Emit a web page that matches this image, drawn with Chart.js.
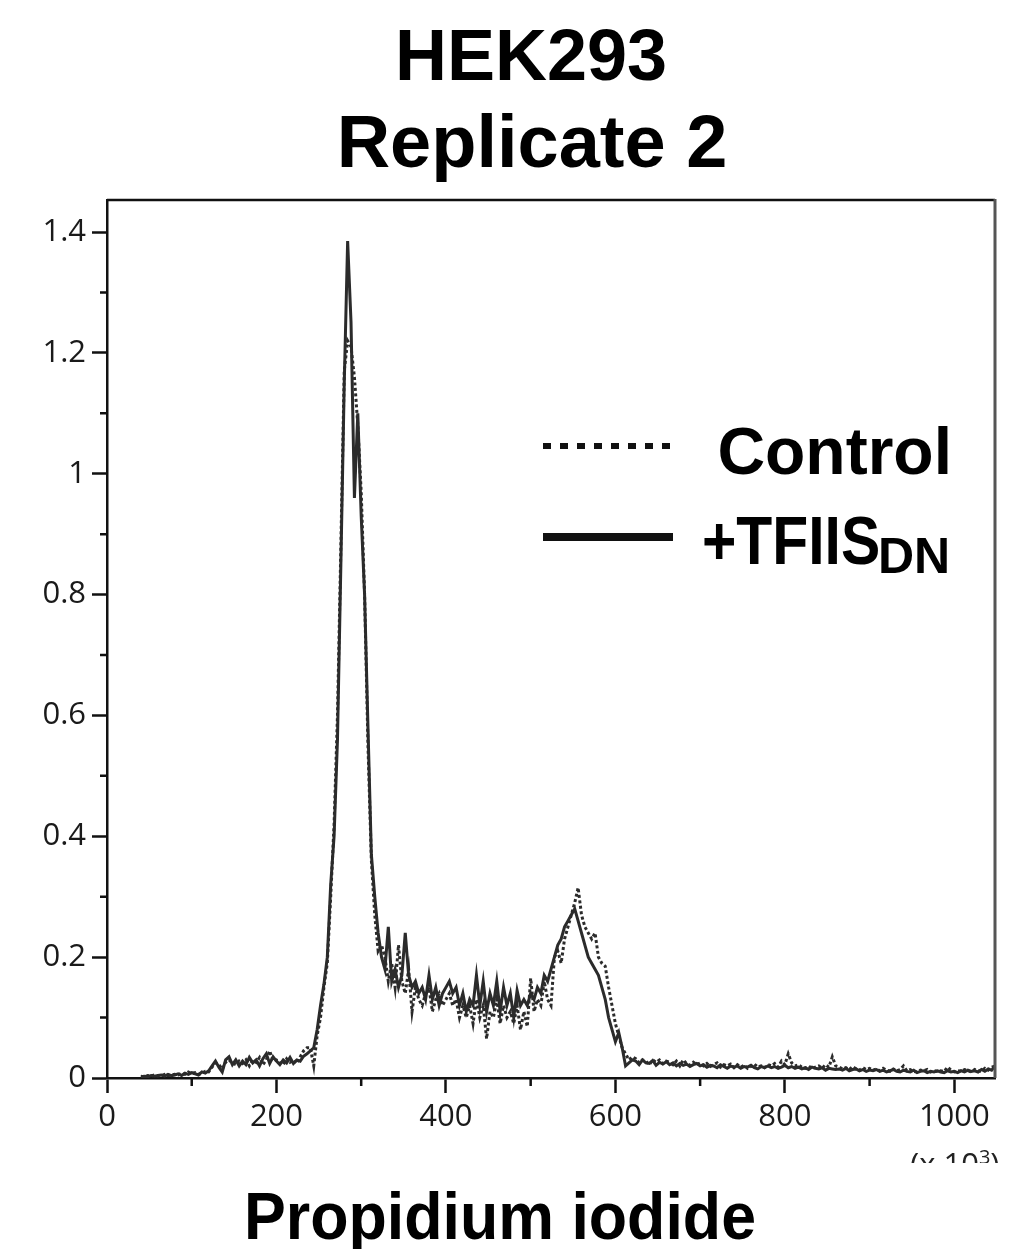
<!DOCTYPE html>
<html>
<head>
<meta charset="utf-8">
<script src="https://cdn.jsdelivr.net/npm/chart.js@4/dist/chart.umd.min.js"></script>
<style>
  html, body { margin: 0; padding: 0; background: #fff; }
  #wrap { position: relative; width: 1015px; height: 1249px; overflow: hidden; background: #fff; }
  #c { position: absolute; left: 0; top: 0; }
  .t { position: absolute; font-family: "Liberation Sans", Arial, sans-serif; font-weight: bold; color: #000; line-height: 1; white-space: nowrap; }
</style>
</head>
<body>
<div id="wrap">
  <canvas id="c" width="1015" height="1249"></canvas>
  <div class="t" id="title1" style="left:0;width:1062px;text-align:center;top:19px;font-size:72px;">HEK293</div>
  <div class="t" id="title2" style="left:0;width:1064px;text-align:center;top:105px;font-size:74px;">Replicate 2</div>
  <div class="t" id="xtitle" style="left:0;width:1000px;text-align:center;top:1183px;font-size:66px;transform:scaleX(0.95);transform-origin:500px 0;">Propidium iodide</div>
  <div style="position:absolute;left:543px;top:443px;width:132px;height:6px;background:repeating-linear-gradient(90deg,#111 0 8px,transparent 8px 17px);"></div>
  <div style="position:absolute;left:543px;top:533px;width:130px;height:8px;background:#111;"></div>
  <div class="t" style="right:63px;top:418px;font-size:66px;">Control</div>
  <div class="t" style="left:702px;top:506px;font-size:68px;transform:scaleX(0.865);transform-origin:0 0;">+TFIIS</div>
  <div class="t" style="left:878px;top:531px;font-size:50px;">DN</div>
  <div style="position:absolute;left:910px;top:1138px;height:25px;overflow:hidden;font-family:'Open Sans',sans-serif;font-size:31px;line-height:1;color:#222;white-space:nowrap;">
    <div style="margin-top:9px;">(x 10<sup style="font-size:20px;vertical-align:11px;">3</sup>)</div>
  </div>
</div>
<script>
const xs = [
  40,44,48,52,56,60,64,68,72,76,
  80,84,88,92,96,100,104,108,112,116,
  120,124,128,132,136,140,144,148,152,156,
  160,164,168,172,176,180,184,188,192,196,
  200,204,208,212,216,220,224,228,232,236,
  240,244,248,252,256,260,264,268,272,276,
  280,284,288,292,296,300,304,308,312,316,
  320,324,328,332,336,340,344,348,352,356,
  360,364,368,372,376,380,384,388,392,396,
  400,404,408,412,416,420,424,428,432,436,
  440,444,448,452,456,460,464,468,472,476,
  480,484,488,492,496,500,504,508,512,516,
  520,524,528,532,536,540,544,548,552,556,
  560,564,568,572,576,580,584,588,592,596,
  600,604,608,612,616,620,624,628,632,636,
  640,644,648,652,656,660,664,668,672,676,
  680,684,688,692,696,700,704,708,712,716,
  720,724,728,732,736,740,744,748,752,756,
  760,764,768,772,776,780,784,788,792,796,
  800,804,808,812,816,820,824,828,832,836,
  840,844,848,852,856,860,864,868,872,876,
  880,884,888,892,896,900,904,908,912,916,
  920,924,928,932,936,940,944,948,952,956,
  960,964,968,972,976,980,984,988,992,996,
  1000,1004,1008,1012,1016,1020,1024,1028,1032,1036,
  1040,1044,1048
];

const tfiisDN = [
  0.002,0.003,0.002,0.004,0.003,0.004,0.005,0.003,0.006,0.004,
  0.005,0.007,0.004,0.008,0.006,0.009,0.007,0.005,0.01,0.008,
  0.012,0.02,0.028,0.018,0.01,0.03,0.035,0.022,0.03,0.02,
  0.028,0.022,0.034,0.025,0.03,0.02,0.032,0.04,0.024,0.035,
  0.028,0.022,0.03,0.025,0.034,0.024,0.03,0.028,0.036,0.04,
  0.045,0.05,0.08,0.12,0.155,0.2,0.32,0.4,0.56,0.85,
  1.15,1.385,1.25,0.96,1.1,0.93,0.8,0.58,0.37,0.3,
  0.24,0.2,0.18,0.25,0.16,0.18,0.15,0.17,0.24,0.17,
  0.15,0.16,0.14,0.15,0.13,0.17,0.13,0.15,0.12,0.14,
  0.15,0.16,0.14,0.15,0.12,0.14,0.11,0.13,0.12,0.17,
  0.12,0.16,0.11,0.14,0.12,0.16,0.11,0.15,0.12,0.14,
  0.1,0.145,0.12,0.13,0.12,0.14,0.13,0.15,0.14,0.17,
  0.16,0.18,0.2,0.22,0.23,0.25,0.26,0.27,0.28,0.26,
  0.24,0.22,0.2,0.19,0.18,0.17,0.15,0.13,0.1,0.08,
  0.06,0.075,0.05,0.02,0.025,0.03,0.028,0.022,0.03,0.025,
  0.024,0.029,0.021,0.026,0.023,0.027,0.022,0.025,0.02,0.024,
  0.021,0.023,0.019,0.022,0.024,0.02,0.022,0.018,0.021,0.02,
  0.017,0.022,0.019,0.016,0.02,0.018,0.02,0.016,0.019,0.018,
  0.021,0.017,0.015,0.019,0.017,0.02,0.017,0.019,0.016,0.018,
  0.021,0.017,0.019,0.016,0.018,0.015,0.017,0.014,0.018,0.016,
  0.015,0.017,0.013,0.016,0.015,0.014,0.015,0.013,0.016,0.012,
  0.014,0.015,0.012,0.014,0.011,0.013,0.012,0.014,0.011,0.013,
  0.01,0.012,0.014,0.011,0.01,0.013,0.011,0.01,0.013,0.009,
  0.011,0.012,0.009,0.011,0.01,0.012,0.01,0.009,0.012,0.01,
  0.011,0.009,0.012,0.01,0.013,0.011,0.012,0.01,0.014,0.011,
  0.015,0.013,0.02
];

const control = [
  0.003,0.002,0.004,0.003,0.005,0.003,0.004,0.006,0.004,0.005,
  0.006,0.005,0.008,0.006,0.01,0.007,0.009,0.006,0.008,0.011,
  0.01,0.018,0.025,0.022,0.015,0.026,0.03,0.025,0.022,0.028,
  0.024,0.03,0.02,0.03,0.026,0.034,0.022,0.03,0.045,0.028,
  0.03,0.025,0.022,0.032,0.026,0.03,0.024,0.035,0.045,0.05,
  0.05,0.02,0.07,0.1,0.15,0.19,0.3,0.42,0.6,0.88,
  1.17,1.22,1.21,1.16,1.08,0.97,0.8,0.55,0.36,0.27,
  0.21,0.22,0.2,0.16,0.19,0.15,0.22,0.16,0.14,0.18,
  0.11,0.15,0.13,0.12,0.14,0.15,0.11,0.13,0.14,0.12,
  0.13,0.14,0.12,0.13,0.1,0.12,0.1,0.12,0.09,0.13,
  0.1,0.12,0.065,0.11,0.1,0.13,0.09,0.12,0.1,0.11,
  0.09,0.12,0.08,0.11,0.085,0.165,0.11,0.13,0.12,0.16,
  0.13,0.12,0.2,0.21,0.19,0.23,0.25,0.27,0.29,0.315,
  0.27,0.25,0.24,0.23,0.24,0.2,0.19,0.185,0.15,0.12,
  0.09,0.07,0.05,0.04,0.03,0.035,0.032,0.025,0.03,0.028,
  0.022,0.03,0.026,0.03,0.024,0.028,0.026,0.022,0.028,0.02,
  0.03,0.024,0.021,0.026,0.022,0.025,0.02,0.024,0.019,0.022,
  0.025,0.018,0.022,0.02,0.023,0.017,0.022,0.018,0.021,0.016,
  0.019,0.023,0.018,0.02,0.017,0.022,0.02,0.024,0.018,0.028,
  0.022,0.04,0.025,0.02,0.022,0.018,0.016,0.02,0.015,0.018,
  0.02,0.016,0.022,0.018,0.035,0.02,0.018,0.015,0.017,0.014,
  0.019,0.015,0.013,0.017,0.014,0.016,0.013,0.015,0.012,0.016,
  0.013,0.011,0.015,0.012,0.014,0.02,0.012,0.014,0.011,0.01,
  0.013,0.012,0.014,0.01,0.012,0.011,0.012,0.011,0.018,0.013,
  0.01,0.012,0.011,0.014,0.012,0.01,0.014,0.012,0.011,0.016,
  0.013,0.018,0.02
];

const xMajorTicks = [0, 200, 400, 600, 800, 1000];
const xMinorTicks = [100, 300, 500, 700, 900];
const yMajorTicks = [0, 0.2, 0.4, 0.6, 0.8, 1.0, 1.2, 1.4];
const yMinorTicks = [0.1, 0.3, 0.5, 0.7, 0.9, 1.1, 1.3];
const xRange = [0, 1048];
const yRange = [0, 1.453];

const tickFont = { family: "'Open Sans', 'DejaVu Sans', sans-serif", size: 31 };

const frame = {
  id: 'frame',
  afterDraw(chart) {
    const { ctx, chartArea: a, scales } = chart;
    ctx.save();
    ctx.strokeStyle = '#111';
    ctx.lineWidth = 2.5;
    ctx.beginPath();
    xMinorTicks.forEach(v => {
      const px = scales.x.getPixelForValue(v);
      ctx.moveTo(px, a.bottom); ctx.lineTo(px, a.bottom + 8);
    });
    yMinorTicks.forEach(v => {
      const py = scales.y.getPixelForValue(v);
      ctx.moveTo(a.left - 7, py); ctx.lineTo(a.left, py);
    });
    ctx.stroke();
    ctx.lineWidth = 2.5;
    ctx.strokeStyle = '#111';
    ctx.beginPath();
    ctx.moveTo(a.left, a.top); ctx.lineTo(a.right, a.top);
    ctx.stroke();
    ctx.strokeStyle = '#555';
    ctx.lineWidth = 3;
    ctx.beginPath();
    ctx.moveTo(a.right, a.top - 1); ctx.lineTo(a.right, a.bottom);
    ctx.stroke();
    ctx.restore();
  }
};

new Chart(document.getElementById('c'), {
  type: 'line',
  data: {
    datasets: [
      {
        label: '+TFIIS DN',
        data: xs.map((x, i) => ({ x: x, y: tfiisDN[i] })),
        borderColor: '#2b2b2b',
        borderWidth: 3,
        pointRadius: 0,
        tension: 0,
        fill: false
      },
      {
        label: 'Control',
        data: xs.map((x, i) => ({ x: x, y: control[i] })),
        borderColor: '#2b2b2b',
        borderWidth: 3,
        borderDash: [3, 2.5],
        pointRadius: 0,
        tension: 0,
        fill: false
      }
    ]
  },
  options: {
    responsive: false,
    devicePixelRatio: 1,
    animation: false,
    events: [],
    layout: { padding: { top: 200, right: 20, left: 0, bottom: 0 } },
    plugins: { legend: { display: false }, tooltip: { enabled: false }, title: { display: false } },
    scales: {
      x: {
        type: 'linear',
        min: xRange[0],
        max: xRange[1],
        afterBuildTicks: s => { s.ticks = xMajorTicks.map(v => ({ value: v })); },
        afterFit: s => { s.height = 171; },
        ticks: { font: tickFont, color: '#1a1a1a', padding: 6, maxRotation: 0, autoSkip: false, callback: v => String(v) },
        grid: { drawOnChartArea: false, drawTicks: true, tickLength: 15, tickColor: '#111', tickWidth: 2.5 },
        border: { display: true, color: '#111', width: 2.5 }
      },
      y: {
        type: 'linear',
        min: yRange[0],
        max: yRange[1],
        afterBuildTicks: s => { s.ticks = yMajorTicks.map(v => ({ value: v })); },
        afterFit: s => { s.width = 107; },
        ticks: { font: tickFont, color: '#1a1a1a', padding: 6, autoSkip: false, callback: v => String(+(+v).toFixed(1)) },
        grid: { drawOnChartArea: false, drawTicks: true, tickLength: 15, tickColor: '#111', tickWidth: 2.5 },
        border: { display: true, color: '#111', width: 2.5 }
      }
    }
  },
  plugins: [frame]
});
</script>
</body>
</html>
